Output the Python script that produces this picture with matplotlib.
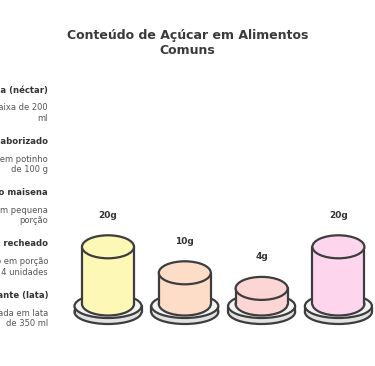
import matplotlib
matplotlib.use("Agg")
import matplotlib.pyplot as plt
from matplotlib.patches import Ellipse, Rectangle

# left column items
foods = ["Suco de caixinha (néctar)", "Iogurte saborizado", "Biscoito maisena",
         "Biscoito recheado", "Refrigerante (lata)"]
portions = ["Consumido em caixa de 200\nml", "Consumido em potinho\nde 100 g",
            "Consumido em pequena\nporção", "Consumido em porção\nde 4 unidades",
            "Fabricada em lata\nde 350 ml"]

# cylinders
sugar_g = [20, 10, 4, 20]
value_labels = ["20g", "10g", "4g", "20g"]
fill_colors = ["#fef8b6", "#fddcc8", "#fcd6d4", "#fdd6ee"]

W, H = 375, 366
plt.rcParams['font.family'] = ['DejaVu Sans']
fig = plt.figure(figsize=(W / 100, H / 100), dpi=100)
fig.patch.set_facecolor("white")

# title
fig.text(0.5, 1 - 43 / H, "Conteúdo de Açúcar em Alimentos\nComuns", ha="center", va="center",
         fontsize=9, fontweight="bold", color="#3a3a3a", linespacing=1.3)

# left label column: item i at pixel y = 90 + 51.3 * i
step = 51.3
top_px = 90 - 0.5 * step
ax_left = fig.add_axes([0, 1 - (top_px + 5 * step) / H, 48 / W, 5 * step / H])
ax_left.set_xlim(0, 1)
ax_left.set_ylim(4.5, -0.5)
ax_left.axis("off")
for i, (name, desc) in enumerate(zip(foods, portions)):
    ax_left.text(1, i, name, ha="right", va="center", fontsize=6.1,
                 fontweight="bold", color="#333333")
    ax_left.text(1, i + 0.45, desc, ha="right", va="center", fontsize=6.0,
                 color="#555555", linespacing=1.2)

# cylinder axes: index i at pixel x = 108 + 76.8 i, y=0 at pixel 304, 2.6 px per gram
px_x = 76.8
px_y = 2.6
x0, x1 = 70, 375
y_top, y_bot = 200, 345
ax = fig.add_axes([x0 / W, 1 - y_bot / H, (x1 - x0) / W, (y_bot - y_top) / H])
ax.set_xlim((x0 - 108) / px_x, (x1 - 108) / px_x)
ax.set_ylim(-(y_bot - 304) / px_y, (304 - y_top) / px_y)
ax.axis("off")

edge = "#3d3d3d"
lw = 1.6
cyl_w = 52 / px_x
ell_h = 23 / px_y
plate_w = 67 / px_x
plate_h = 24 / px_y

for i, (v, lab, col) in enumerate(zip(sugar_g, value_labels, fill_colors)):
    h = v + 2
    # plate: lower and upper disc
    pb = -8 / px_y
    pt = -2 / px_y
    ax.add_patch(Ellipse((i, pb), plate_w, plate_h, facecolor="#e2e2e2", edgecolor=edge, lw=lw, zorder=1))
    ax.add_patch(Rectangle((i - plate_w / 2, pb), plate_w, pt - pb, facecolor="#e2e2e2", edgecolor="none", zorder=1.1))
    ax.plot([i - plate_w / 2] * 2, [pb, pt], color=edge, lw=lw, zorder=1.2, solid_capstyle="round")
    ax.plot([i + plate_w / 2] * 2, [pb, pt], color=edge, lw=lw, zorder=1.2, solid_capstyle="round")
    ax.add_patch(Ellipse((i, pt), plate_w, plate_h, facecolor="#f3f3f3", edgecolor=edge, lw=lw, zorder=1.3))
    # cylinder body
    ax.add_patch(Ellipse((i, 0), cyl_w, ell_h, facecolor=col, edgecolor=edge, lw=lw, zorder=2))
    ax.add_patch(Rectangle((i - cyl_w / 2, 0), cyl_w, h, facecolor=col, edgecolor="none", zorder=2.1))
    for sx in (-1, 1):
        ax.plot([i + sx * cyl_w / 2] * 2, [0, h], color=edge, lw=lw, zorder=2.2,
                solid_capstyle="round")
    ax.add_patch(Ellipse((i, h), cyl_w, ell_h, facecolor=col, edgecolor=edge, lw=lw, zorder=2.3))
    ax.text(i, h + ell_h / 2 + 20 / px_y, lab, ha="center", va="center", fontsize=6.5,
            fontweight="bold", color="#333333")

fig.savefig("out.png", dpi=100)
